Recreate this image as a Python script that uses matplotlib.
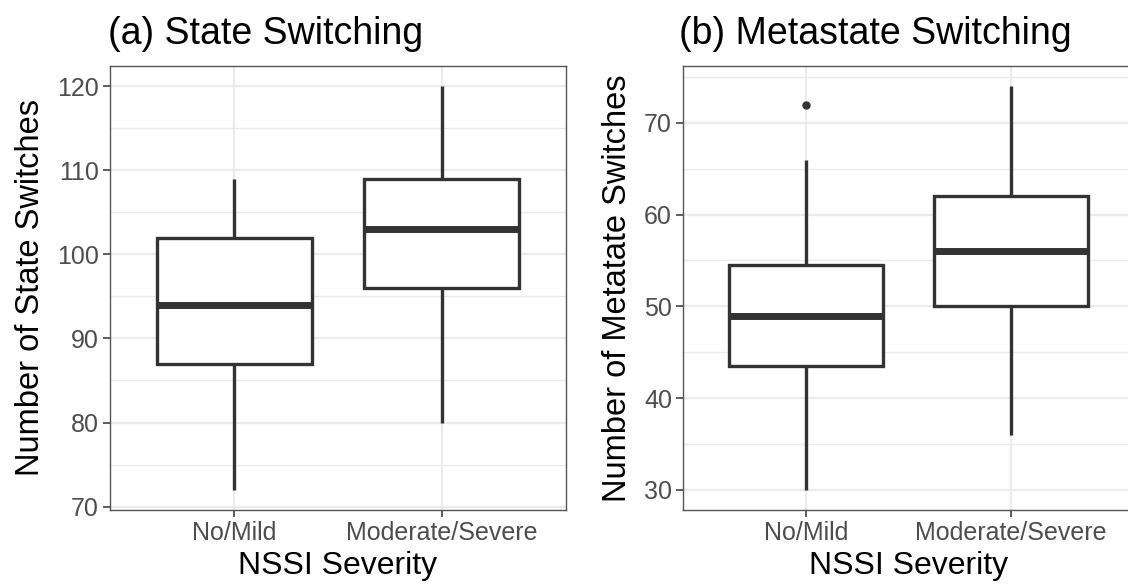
import numpy as np
import matplotlib
matplotlib.use("Agg")
import matplotlib.pyplot as plt
from matplotlib.ticker import MultipleLocator

plt.rcParams['font.family'] = ['Liberation Sans', 'DejaVu Sans']

# ---- data ----
groups = ["No/Mild", "Moderate/Severe"]

state_low  = [72, 80]
state_q1   = [87, 96]
state_med  = [94, 103]
state_q3   = [102, 109]
state_high = [109, 120]
state_out  = [[], []]

meta_low  = [30, 36]
meta_q1   = [43.5, 50]
meta_med  = [49, 56]
meta_q3   = [54.5, 62]
meta_high = [66, 74]
meta_out  = [[72], []]

DARK = "#333333"
GRID = "#EBEBEB"


def make_stats(low, q1, med, q3, high, out):
    return [dict(whislo=low[i], q1=q1[i], med=med[i], q3=q3[i], whishi=high[i],
                 fliers=out[i], label=groups[i]) for i in range(len(groups))]


def draw_panel(ax, stats, major, ylabel):
    lo = min(min(s["whislo"], *s["fliers"]) if s["fliers"] else s["whislo"] for s in stats)
    hi = max(max(s["whishi"], *s["fliers"]) if s["fliers"] else s["whishi"] for s in stats)
    pad = 0.05 * (hi - lo)
    ax.set_ylim(lo - pad, hi + pad)
    ax.set_xlim(0.4, 2.6)

    ax.yaxis.set_major_locator(MultipleLocator(major))
    ax.yaxis.set_minor_locator(MultipleLocator(major / 2))
    ax.grid(True, which="major", color=GRID, lw=1.6, zorder=0)
    ax.grid(True, which="minor", axis="y", color=GRID, lw=1.0, zorder=0)
    ax.set_axisbelow(True)

    ax.bxp(stats, positions=[1, 2], widths=0.75, showcaps=False, patch_artist=True,
           boxprops=dict(facecolor="white", edgecolor=DARK, lw=2.4),
           whiskerprops=dict(color=DARK, lw=2.4, solid_capstyle="butt"),
           medianprops=dict(color=DARK, lw=5.0, solid_capstyle="butt"),
           flierprops=dict(marker="o", markersize=5, markerfacecolor=DARK,
                           markeredgecolor=DARK))

    for sp in ax.spines.values():
        sp.set_color("#555555")
        sp.set_linewidth(1.0)
    ax.tick_params(axis="both", which="major", length=5, width=1.1, color=DARK,
                   labelsize=18, labelcolor="#4D4D4D", pad=3)
    ax.tick_params(axis="y", which="minor", length=0)
    ax.set_xticks([1, 2])
    ax.set_xticklabels(groups)
    ax.set_xlabel("NSSI Severity", fontsize=23, color="black", labelpad=4)
    ax.set_ylabel(ylabel, fontsize=23.5, color="black", labelpad=8)


fig = plt.figure(figsize=(11.28, 5.88), dpi=100)
ax1 = fig.add_axes([110 / 1128, 1 - 510 / 588, 456 / 1128, 444 / 588])
ax2 = fig.add_axes([683 / 1128, 1 - 510 / 588, 451 / 1128, 444 / 588])

draw_panel(ax1, make_stats(state_low, state_q1, state_med, state_q3, state_high, state_out),
           10, "Number of State Switches")
draw_panel(ax2, make_stats(meta_low, meta_q1, meta_med, meta_q3, meta_high, meta_out),
           10, "Number of Metatate Switches")

fig.text(108 / 1128, 1 - 44 / 588, "(a) State Switching", fontsize=27, ha="left", va="baseline")
fig.text(679 / 1128, 1 - 44 / 588, "(b) Metastate Switching", fontsize=27, ha="left", va="baseline")

fig.savefig("out.png", dpi=100)
